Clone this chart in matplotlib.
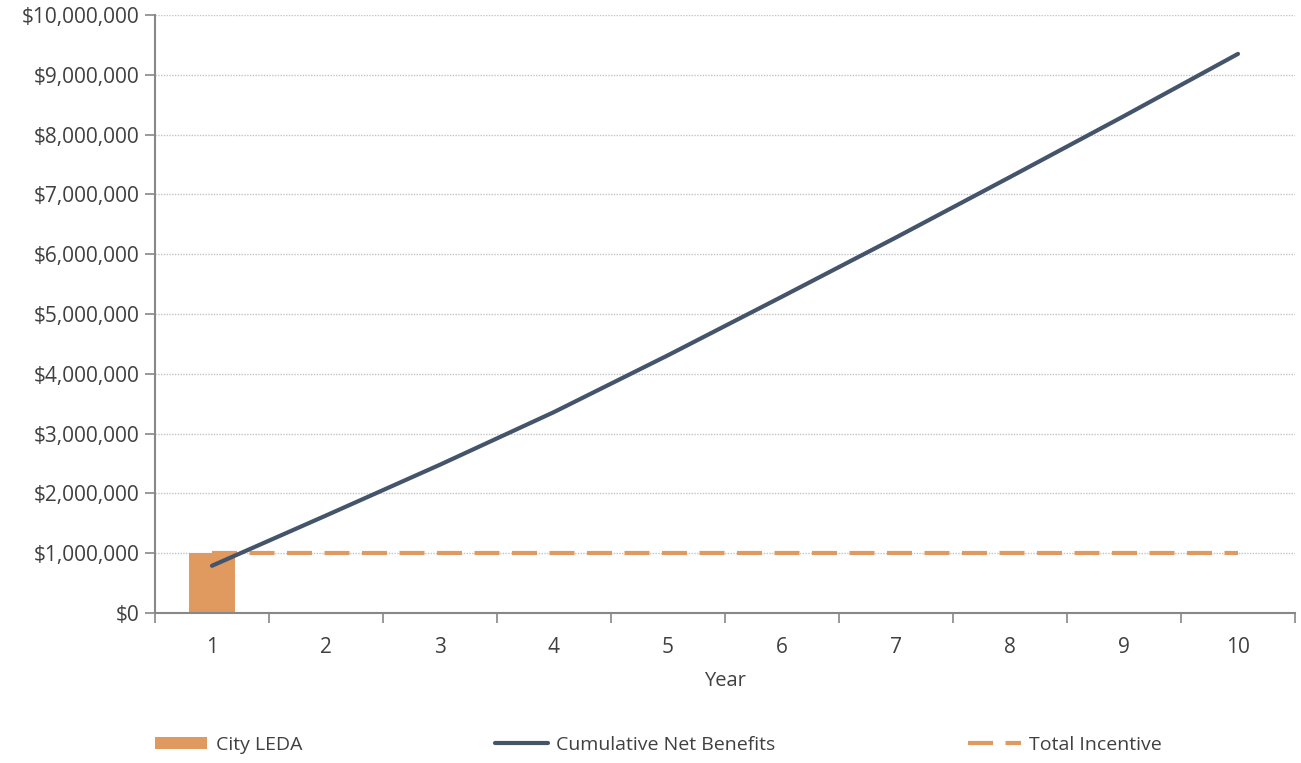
import matplotlib.pyplot as plt
import numpy as np
from matplotlib.ticker import FuncFormatter

years = [1, 2, 3, 4, 5, 6, 7, 8, 9, 10]
city_leda = [1000000]
cumulative_net = [790000, 1630000, 2480000, 3360000, 4310000, 5290000, 6280000, 7290000, 8310000, 9350000]
total_incentive = [1000000] * 10

plt.rcParams['font.family'] = ['Open Sans', 'DejaVu Sans']

orange = '#E0995E'
navy = '#44546A'
grey = '#888888'

fig = plt.figure(figsize=(13.01, 7.63), dpi=100)
ax = fig.add_axes([155/1301, 1 - 613/763, (1295-155)/1301, (613-15)/763])

bar = ax.bar(years[:1], city_leda, width=0.4, color=orange, label='City LEDA', zorder=2)
ln1, = ax.plot(years, cumulative_net, color=navy, lw=3, solid_capstyle='round', label='Cumulative Net Benefits', zorder=4)
ln2, = ax.plot(years, total_incentive, color=orange, lw=3, dashes=(6, 3), label='Total Incentive', zorder=3)

ax.set_xlim(0.5, 10.5)
ax.set_ylim(0, 10000000)
ax.set_yticks(np.arange(0, 10000001, 1000000))
ax.yaxis.set_major_formatter(FuncFormatter(lambda v, p: '${:,.0f}'.format(v)))
ax.set_xticks(years)
ax.set_xticks(np.arange(0.5, 10.6, 1), minor=True)
ax.tick_params(axis='x', which='major', length=0, pad=17)
ax.tick_params(axis='x', which='minor', length=7, color=grey, width=1.2)
ax.tick_params(axis='y', length=7, color=grey, width=1.2, pad=4)
ax.tick_params(labelsize=15, labelcolor='#404040')
ax.grid(axis='y', color='#C4C4C4', linestyle=(0, (1, 1)), lw=1)
ax.set_axisbelow(True)
for s in ['top', 'right']:
    ax.spines[s].set_visible(False)
for s in ['left', 'bottom']:
    ax.spines[s].set_color(grey)
    ax.spines[s].set_linewidth(1.5)
ax.set_xlabel('Year', fontsize=14.5, color='#404040', labelpad=10)

fig.legend([bar, ln1, ln2], ['City LEDA', 'Cumulative Net Benefits', 'Total Incentive'],
           loc='center left', bbox_to_anchor=(147/1301, 1 - 745/763), ncol=3, frameon=False,
           fontsize=14, handlelength=2.7, handleheight=0.6, handletextpad=0.45, columnspacing=9.9,
           labelcolor='#404040', borderaxespad=0)

fig.savefig('out.png', dpi=100)
